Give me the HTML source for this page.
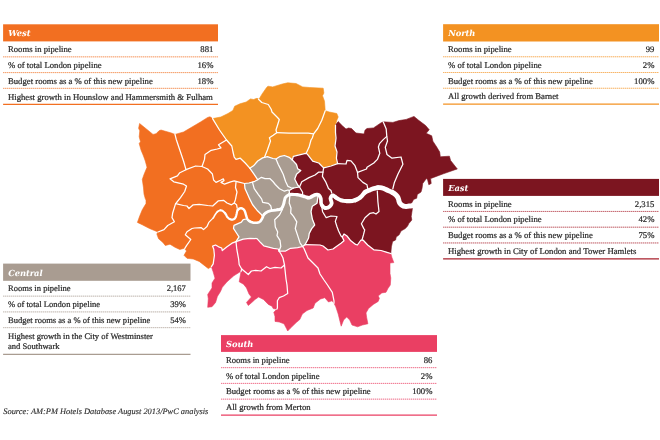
<!DOCTYPE html>
<html><head><meta charset="utf-8"><title>London hotel pipeline by region</title>
<style>
html,body{margin:0;padding:0;background:#fff}
body{width:660px;height:440px;position:relative;overflow:hidden;font-family:"Liberation Serif",serif;color:#2a2a2a;text-rendering:geometricPrecision}
.tb{position:absolute}
.hd{position:absolute;left:0;top:0;right:0;height:16.5px}
.hd span{position:absolute;left:5.1px;top:3.85px;font-family:"DejaVu Serif",serif;font-size:8.4px;line-height:11px;font-style:italic;font-weight:bold;color:#fff;white-space:nowrap;letter-spacing:-0.1px}
.tb{font-size:8.7px}
.rw{position:absolute;left:0;right:0;box-sizing:border-box;line-height:10.2px;-webkit-text-stroke:0.22px #2a2a2a}
.rw .a{position:absolute;left:4.9px;top:2.6px;white-space:nowrap}
.rw .b{position:absolute;right:4.6px;top:2.6px;white-space:nowrap}
.src{position:absolute;left:3.3px;top:405.5px;font-size:8.4px;line-height:11px;font-style:italic;white-space:nowrap;color:#2a2a2a;-webkit-text-stroke:0.12px #2a2a2a}
</style></head><body>
<svg width="660" height="440" viewBox="0 0 660 440" style="position:absolute;left:0;top:0">
<polygon points="139.6,123.5 147,129.5 153,134.4 156,133.8 159,130.8 161,130 171.4,133 175,134.4 183.5,132 192,127 200.5,122 207.7,117.4 210,116.8 212.6,118.6 219.5,130 226.5,140 231.8,146 233,152 234.2,157 236,159.4 240.3,158.2 245.2,163 249.8,168.2 254,174.2 257.7,179.7 254.8,181.3 249,183 244.5,183.5 245,188.6 247.4,193.8 249.7,198.9 252.5,204.5 257,210.2 261.6,214.8 262.7,217.5 259,222.2 252.9,222.8 248,220.4 246.5,219 243.2,219.6 241.4,222.2 234,225.3 233.5,228.3 236.5,233 239,236.8 236,241.6 232,243.2 227,246.8 222.3,250.5 221.7,248 218.6,246.8 215.6,245 212.6,246.2 213.8,249.2 214.4,255.3 213.2,263.8 211.4,266.7 208.3,268.6 205.3,266.2 199.2,261.4 193.2,259 187,258.3 184,255.3 186.5,251 184.7,248.6 183.5,248.5 179.8,249.5 175,247.3 170,244.2 165.3,245.5 162.9,242.4 158.6,238.8 156.8,234 158,232 149.5,228.5 142.3,224.8 137.4,222.4 139.8,215.8 142.3,209.7 146,203.6 146,200 145.3,198.8 144,194 143.5,187.9 142.3,179.4 144,174.5 147,167.3 145.3,161 143.5,156 141,150 139.2,143.5 140.5,141.7 139.2,136.8 139.8,130.8 138.6,128.3" fill="#F26F21" stroke="#F26F21" stroke-width="0.6" stroke-linejoin="round"/>
<polygon points="212.6,118.6 220.8,117 228,113.5 232.9,110.4 234.7,106.2 240,103.8 246.2,102 250.5,98.9 253.5,99.5 257,98.3 259,99.3 261.8,94.4 266.6,87.5 268,86.2 272.7,86.9 282.3,84 287.7,82.8 296,83.5 302.7,86.9 309.5,87.5 323.2,88.2 323.9,93 322.5,95.7 324.5,101.2 325.2,110.7 329.3,112 336.8,113.5 338.2,116.9 336.8,120.3 335.5,125 335.5,132.5 336,138 335.8,140 335,146 337,152 336.4,158.2 337.6,163.6 331,166 323.6,167.9 318.8,163 312.7,161.2 307.3,154 305.5,153.3 293.3,156.4 292.3,159.9 289.2,157.3 284.4,155.5 279.5,156.7 276,159 272.9,158.5 267.4,156.7 262.6,157.9 257.7,161 253.5,165.8 249.8,168.2 245.2,163 240.3,158.2 236,159.4 234.2,157 233,152 231.8,146 226.5,140 219.5,130 212.6,118.6" fill="#F39222" stroke="#F39222" stroke-width="0.6" stroke-linejoin="round"/>
<polygon points="335.5,125 338.2,121.6 342.3,125.7 346,129 348.5,128 351.5,128.5 356,133 364,134 365,130.3 366.8,128.5 373.5,127.9 380.8,123 383.2,121.8 392.9,122.4 399,120.6 406.2,119.4 414,116.4 418.3,120 425.6,125.5 429.2,129.7 426.2,133.3 431.7,135.8 432.9,141.2 436.7,147 439.7,152 440.3,156.8 449.4,156.2 450.6,160.5 457.3,169 454.2,170 443.3,173.8 433.6,177.4 430.6,178.6 431.2,183.5 428.8,184.7 427.6,179.8 426.4,178.6 422.7,183.5 422,188.5 421,192 417.3,194.5 416.7,198.2 413.6,199.4 412.4,201.8 411,204 412.4,208.5 411.8,212.7 411.2,216.4 411.8,220 408.8,223.6 407.6,226 405.3,228.6 401,231 399.2,234.7 396.2,237 395.6,240 392.6,241.4 391.4,246.8 390.8,253.5 387,252.3 381,250.5 373.8,249.8 367.7,245 363,240 361,240 357.4,245 355.6,244.4 350.8,240.8 347,236 344,234 342.3,237 344,240.8 341,243.2 335,247.4 333,249 328,250 323,246 320,245 305,244.7 308.6,238 309.2,233.5 311.7,228.6 314.7,225 312.3,219 311,211.7 312.3,206.2 317,203.2 317.7,198.3 318,195.5 314,195.5 309.2,197.7 304.4,196.5 297,194.7 289.5,194.5 289.2,190.5 293.5,188 299.5,187 297.7,185 294.7,179 296.5,174.2 300.8,170.6 297.7,168.8 296.5,164.5 292.3,159.9 293.3,156.4 305.5,153.3 307.3,154 312.7,161.2 318.8,163 323.6,167.9 331,166 337.6,163.6 336.4,158.2 337,152 335,146 335.8,140 336,138 335.5,132.5 335.5,125" fill="#7C1520" stroke="#7C1520" stroke-width="0.6" stroke-linejoin="round"/>
<polygon points="249.8,168.2 253.5,165.8 257.7,161 262.6,157.9 267.4,156.7 272.9,158.5 276,159 279.5,156.7 284.4,155.5 289.2,157.3 292.3,159.9 296.5,164.5 297.7,168.8 300.8,170.6 296.5,174.2 294.7,179 297.7,185 299.5,187 293.5,188 289.2,190.5 289.5,194.5 297,194.7 304.4,196.5 309.2,197.7 314,195.5 318,195.5 317.7,198.3 317,203.2 312.3,206.2 311,211.7 312.3,219 314.7,225 311.7,228.6 309.2,233.5 308.6,238 305,244.7 302.6,246.5 297.7,247.7 290.5,248.3 285.6,251 279,251 278.3,249 273.5,248.3 263.8,245.9 260.8,242.8 257,238.6 250,238.3 243.2,239.2 236,241.6 239,236.8 236.5,233 233.5,228.3 234,225.3 241.4,222.2 243.2,219.6 246.5,219 248,220.4 252.9,222.8 259,222.2 262.7,217.5 261.6,214.8 257,210.2 252.5,204.5 249.7,198.9 247.4,193.8 245,188.6 244.5,183.5 249,183 254.8,181.3 257.7,179.7 254,174.2 249.8,168.2" fill="#A99C91" stroke="#A99C91" stroke-width="0.6" stroke-linejoin="round"/>
<polygon points="236,241.6 243.2,239.2 250,238.3 257,238.6 260.8,242.8 263.8,245.9 273.5,248.3 278.3,249 279,251 285.6,251 290.5,248.3 297.7,247.7 302.6,246.5 305,244.7 320,245 323,246 328,250 333,249 335,247.4 341,243.2 344,240.8 342.3,237 344,234 347,236 350.8,240.8 355.6,244.4 357.4,245 361,240 363,240 367.7,245 373.8,249.8 381,250.5 387,252.3 390.8,253.5 392,257.7 393.8,262.6 390,263 390,273.5 390.8,278 390.3,285 387.9,288.6 386,292.3 381.8,292.9 378.2,296 379.4,298.3 378.2,301.4 373.3,304.4 368.5,308.6 366,312.9 366.7,317.7 367.9,323.8 362.4,325 357.6,326.8 352,325 349.7,320 346.7,317 343.6,320 341.2,326.2 340,321.4 338.2,314 335.8,306.8 334,303.2 332,300.8 328.5,302 324.8,297.7 320.5,299 315,303.2 313.2,308 307,310.5 302.3,314 299.8,319.5 296.2,322.6 290,328.6 287.7,331 286.5,328.6 284,323.8 279.2,322 275,321.4 275,316.5 273.8,312.3 276.8,309.2 273.2,308.6 272,306.2 268.3,304.4 263.5,299.5 258.6,297 255,299.5 252.6,301.8 248.3,305.5 246.5,302.4 251.4,297 249,294 246.5,287.9 243.5,284.2 239.2,281.8 241,271.5 239.8,272 233.8,275.8 227,281.8 222.3,287.3 220.5,291.5 217.4,296.4 215.6,302.4 212,306.7 207.7,307.3 208.3,298.8 207.7,294.5 212,287.9 212,283 215,278.2 213.2,272 211.4,266.7 213.2,263.8 214.4,255.3 213.8,249.2 212.6,246.2 215.6,245 218.6,246.8 221.7,248 222.3,250.5 227,246.8 232,243.2 236,241.6" fill="#EA3F63" stroke="#EA3F63" stroke-width="0.6" stroke-linejoin="round"/>
<g fill="none" stroke="#fff" stroke-width="1.25" stroke-linejoin="round" stroke-linecap="round">
<polyline points="175,134.4 176.2,139.2 179.8,150 183.5,161 186,169.7 179.8,172.7 177.4,175.8 170,178.8 173.8,181.8 183.5,184.2 186.5,186 184.7,191.5 180.5,197.6 176.2,203 175.6,203.6 172.6,213.3 172,217.6 174.4,221.8 167.7,225.5 164,229.7 158,232"/>
<polyline points="186,169.7 195.6,166 202,166.5 204.5,159.4 205,154.5 211.2,150.3 217.3,149 221,147.9 218.5,144.8 226.5,140"/>
<polyline points="202,166.5 207.6,169 212.4,174 213.6,180 216,182.4 221,180 223.3,178.8 224,180.6 221,182.4 224.5,184.2 230.6,181.8 234.2,180.8 238,181.8 244.5,183.5"/>
<polyline points="236,182.4 235.5,187.5 237,192 236,196.6 235.5,199.4 234.3,203 236.6,204.8 237.2,208.2"/>
<polyline points="175.6,203.6 183.5,205.5 187,206 189,208.5 193.2,204.8 199.2,204.3 207.7,205.5 212.7,206 216,203 218.4,200.8 223.5,200.3 227,203 231.5,204.8 234.3,203"/>
<polyline points="184.7,248.6 186.5,245.6 190.8,239.5 185.3,234.7 187,231.7 192,228.5 194.5,228 201,227.6 203.5,229.6 207,226.5 208.8,222.4 213.3,217.9"/>
<polyline points="236,241.6 236.8,249.2 238.6,259 239.2,264.8 241.7,269 241,271.5"/>
<polyline points="241.7,269 248.3,274.5 251.4,271 255.6,270.3 261,271 266.5,266.7 270,268.5 275,267.3 281,268 284.5,265"/>
<polyline points="279,251 281,254 283,258 284.5,265 286,279 287,285 287.7,293.5 283.5,296 279.2,297.7 277.4,300.8 277.4,308 276.8,309.2"/>
<polyline points="302.6,246.5 304,248.5 308,258 312,262 318,268 320,274 324,280 327.5,285 332.3,292.3 334,300.8 334,303.2"/>
<polyline points="282.6,209 279.5,215 274.7,219.8 275.3,227 277.7,232 277,235.6 280,240.4 280.8,246.5 279,251"/>
<polyline points="289.8,196 289.2,203 291,208 290.7,213 293.5,216.4 296.8,221.8 295.3,228.5 297.7,235.6 300,242.8 302.6,246.5"/>
<polyline points="321.4,204.4 322.6,211.7 326.2,217.7 331,216 337,216.5 335.3,221.4 337,226.8 338.6,231 341,236 342.3,237"/>
<polyline points="377.3,191 377.9,201.8 379,211.5 376,214 373.6,212.7 370,213.3 365,217.7 361.4,223.8 363.8,228.6 364.7,229.8 363.5,234.7 362,240"/>
<polyline points="276,159 278.3,164.5 280.8,169.4 283.2,174.2 285.6,181.5 288,186.4 291,187.8 293.5,188"/>
<polyline points="257.7,179.7 261.4,177.3 265,178.6 269.8,178.5 272.9,181.5 275.3,184.5 279.5,188.8 284.4,191.2 288,190 289.2,190.5"/>
<polyline points="252.5,182.4 254.2,188.6 258.2,194.3 261.6,198.9 262.7,202.3 268.4,203.4 270.7,205.7 271.8,210.5"/>
<polyline points="299.5,187 301.8,181.8 309,177.6 315,175 318.8,172 323,172"/>
<polyline points="323.6,167.9 323,172 322.4,176.4 326,182.4 328.5,188.5 331,190.5 331.7,193"/>
<polyline points="299.5,187 302.6,192.3 302.5,196"/>
<polyline points="337.6,163.6 346,164 347,160.3 351,160.8 355,165.7 357.5,172.3"/>
<polyline points="357.5,172.3 366.5,169 367,167.3 373.8,163 377.4,159.4 379.8,153.3 378.4,147 379.5,143.6 383.2,139.6 386.8,136.4"/>
<polyline points="383.2,121.8 386.2,129 386.8,136.4 387.5,141 385.3,147.3 387,154.5 392,158.2 401,157 402.9,164.2 398,174 394.4,182.4 392.8,189"/>
<polyline points="357.5,172.3 358,177.6 362.9,182.4 367,184.8 367.7,188.5"/>
<polyline points="258.5,99.3 261.8,102.5 268.3,104.5 271.2,109.3 272,112 277.5,117.5 279.3,119.5 277.6,125 276,130 276.7,132.7 273.2,135.3 269.4,137.8 270.5,141 267.4,150 265,156 264.5,157.3"/>
<polyline points="276.7,132.7 289,133.2 308.2,133.2 313.6,133.9"/>
<polyline points="325.2,110.7 321.8,120.3 317.7,128.5 313.6,133.9 312.3,138 311,140 309,147.3 306.3,153"/>
<polyline points="212.6,118.6 219.5,130 226.5,140 231.8,146 233,152 234.2,157 236,159.4 240.3,158.2 245.2,163 249.8,168.2"/>
<polyline points="249.8,168.2 253.5,165.8 257.7,161 262.6,157.9 267.4,156.7 272.9,158.5 276,159 279.5,156.7 284.4,155.5 289.2,157.3 292.3,159.9"/>
<polyline points="292.3,159.9 293.3,156.4 305.5,153.3 307.3,154 312.7,161.2 318.8,163 323.6,167.9 331,166 337.6,163.6 336.4,158.2 337,152 335,146 335.8,140 336,138 335.5,132.5 335.5,125"/>
<polyline points="249.8,168.2 254,174.2 257.7,179.7 254.8,181.3 249,183 244.5,183.5 245,188.6 247.4,193.8 249.7,198.9 252.5,204.5 257,210.2 261.6,214.8 262.7,217.5"/>
<polyline points="246.5,219 243.2,219.6 241.4,222.2 234,225.3 233.5,228.3 236.5,233 239,236.8 236,241.6"/>
<polyline points="236,241.6 243.2,239.2 250,238.3 257,238.6 260.8,242.8 263.8,245.9 273.5,248.3 278.3,249 279,251 285.6,251 290.5,248.3 297.7,247.7 302.6,246.5 305,244.7"/>
<polyline points="292.3,159.9 296.5,164.5 297.7,168.8 300.8,170.6 296.5,174.2 294.7,179 297.7,185 299.5,187 293.5,188 289.2,190.5 289.5,194.5"/>
<polyline points="318,195.5 317.7,198.3 317,203.2 312.3,206.2 311,211.7 312.3,219 314.7,225 311.7,228.6 309.2,233.5 308.6,238 305,244.7"/>
<polyline points="305,244.7 320,245 323,246 328,250 333,249 335,247.4 341,243.2 344,240.8 342.3,237 344,234 347,236 350.8,240.8 355.6,244.4 357.4,245 361,240 363,240 367.7,245 373.8,249.8 381,250.5 387,252.3 390.8,253.5"/>
<polyline points="236,241.6 232,243.2 227,246.8 222.3,250.5 221.7,248 218.6,246.8 215.6,245 212.6,246.2 213.8,249.2 214.4,255.3 213.2,263.8 211.4,266.7"/>
</g>
<polyline points="213.3,217.9 213.9,216.9 214.7,215.4 215.6,214 216.5,212.8 217.4,211.8" fill="none" stroke="#fff" stroke-width="1.6" stroke-linejoin="round" stroke-linecap="round"/>
<polyline points="217.4,211.8 218.4,211 219.5,210.5 220.6,210.3" fill="none" stroke="#fff" stroke-width="1.8" stroke-linejoin="round" stroke-linecap="round"/>
<polyline points="220.6,210.3 221.8,210.5 223,211.1 224.1,212.2 225.2,213.3" fill="none" stroke="#fff" stroke-width="2.0" stroke-linejoin="round" stroke-linecap="round"/>
<polyline points="225.2,213.3 226,214.6 226.7,216 227.5,217.3 228.6,218.3 229.8,219.1 231,219.6 232.4,219.6 233.7,219.2 234.9,218.5 235.7,217.2 236.2,215.6 236.6,214 236.9,212.5 237.2,211.2 237.7,210" fill="none" stroke="#fff" stroke-width="2.2" stroke-linejoin="round" stroke-linecap="round"/>
<polyline points="237.7,210 238.6,209.1 239.8,208.4 241,208.2 242.2,208.5 243.5,209.3 244.5,210.5 245.2,212.2 245.8,214.3 246.3,216.2 246.8,217.7 247.2,218.9 248,220 249.4,221.1" fill="none" stroke="#fff" stroke-width="2.4" stroke-linejoin="round" stroke-linecap="round"/>
<polyline points="249.4,221.1 251.1,222 252.9,222.6 254.9,222.8 257.1,222.7 259,222.2 260.4,221.2 261.4,219.7 262.3,218.3 262.9,217 263.3,215.6 264,214.4" fill="none" stroke="#fff" stroke-width="2.6" stroke-linejoin="round" stroke-linecap="round"/>
<polyline points="264,214.4 265.2,213.2 266.8,212.2 268.6,211.3 271,210.7 273.6,210.3 276,210 277.9,209.7" fill="none" stroke="#fff" stroke-width="2.8" stroke-linejoin="round" stroke-linecap="round"/>
<polyline points="277.9,209.7 279.5,209.5 280.8,209 281.8,208 282.6,206.8 283.2,205.3 283.8,203.6 284.2,201.6 284.6,200 284.9,198.9 285.1,198.1 285.6,197.3 286.6,196.3 287.8,195.4 289.5,194.7" fill="none" stroke="#fff" stroke-width="3.0" stroke-linejoin="round" stroke-linecap="round"/>
<polyline points="289.5,194.7 291.7,194.4 294.4,194.5 297,194.7" fill="none" stroke="#fff" stroke-width="3.2" stroke-linejoin="round" stroke-linecap="round"/>
<polyline points="297,194.7 299.6,195.2 302.1,195.9 304.4,196.5 306.2,197.1 307.7,197.6" fill="none" stroke="#fff" stroke-width="3.4" stroke-linejoin="round" stroke-linecap="round"/>
<polyline points="307.7,197.6 309.2,197.7 310.8,197.1 312.4,196.1 314,195.3 315.5,194.8 317,194.5 318.3,194.7 319.3,195.5 320.2,196.8 320.8,198.3 321,200.2 321,202.5 321.4,204.4 322.4,206" fill="none" stroke="#fff" stroke-width="3.6" stroke-linejoin="round" stroke-linecap="round"/>
<polyline points="322.4,206 323.6,207.2 325,208 326.4,208 327.9,207.6 329.2,206.8 330.3,205.8 331.2,204.6 331.7,203.2 331.4,201.6 330.8,199.8 330.5,198.3 331,196.9 331.8,195.8 332.9,195.3 334.1,195.9 335.4,197.1" fill="none" stroke="#fff" stroke-width="3.8" stroke-linejoin="round" stroke-linecap="round"/>
<polyline points="335.4,197.1 337,198.3 338.8,199.3 340.8,200.2 343.2,200.8 346.3,201.1" fill="none" stroke="#fff" stroke-width="4.0" stroke-linejoin="round" stroke-linecap="round"/>
<polyline points="346.3,201.1 349.7,201.1 352.9,200.8 355.5,200.1" fill="none" stroke="#fff" stroke-width="4.2" stroke-linejoin="round" stroke-linecap="round"/>
<polyline points="355.5,200.1 357.9,199 360,197.7 361.8,196 363.4,194 365,192.3" fill="none" stroke="#fff" stroke-width="4.4" stroke-linejoin="round" stroke-linecap="round"/>
<polyline points="365,192.3 366.6,191.3 368.3,190.6 370,190 371.9,189.2 374,188.4 376,187.9 378,187.6" fill="none" stroke="#fff" stroke-width="4.6" stroke-linejoin="round" stroke-linecap="round"/>
<polyline points="378,187.6 380,187.6 382,187.9 384,188.6 386,189.5 388,190.5 390.1,191.4 392.3,192.4" fill="none" stroke="#fff" stroke-width="4.8" stroke-linejoin="round" stroke-linecap="round"/>
<polyline points="392.3,192.4 394.2,193.5 395.7,194.7 396.9,196 397.9,197.5 398.6,199.3 399,201.3 399.7,203 400.7,204.3 402,205.3 403.3,206 404.6,206.3 406.1,206.4 407.6,206.3 409.3,206.1 411.2,205.9 413,205.5 414.9,205 416.7,204.4 418,204" fill="none" stroke="#fff" stroke-width="5.0" stroke-linejoin="round" stroke-linecap="round"/>
<rect x="3.1" y="24.3" width="214.9" height="17.1" fill="#F26F21"/>
<line x1="3.1" y1="56.85" x2="218.0" y2="56.85" stroke="#F26F21" stroke-width="1" stroke-opacity="0.28"/>
<line x1="3.1" y1="56.85" x2="218.0" y2="56.85" stroke="#F26F21" stroke-width="1" stroke-opacity="0.6" stroke-dasharray="1 1"/>
<line x1="3.1" y1="72.60" x2="218.0" y2="72.60" stroke="#F26F21" stroke-width="1" stroke-opacity="0.28"/>
<line x1="3.1" y1="72.60" x2="218.0" y2="72.60" stroke="#F26F21" stroke-width="1" stroke-opacity="0.6" stroke-dasharray="1 1"/>
<line x1="3.1" y1="88.35" x2="218.0" y2="88.35" stroke="#F26F21" stroke-width="1" stroke-opacity="0.28"/>
<line x1="3.1" y1="88.35" x2="218.0" y2="88.35" stroke="#F26F21" stroke-width="1" stroke-opacity="0.6" stroke-dasharray="1 1"/>
<line x1="3.1" y1="104.30" x2="218.0" y2="104.30" stroke="#F26F21" stroke-width="1.25"/>
<rect x="443.1" y="24.2" width="215.9" height="17.3" fill="#F39222"/>
<line x1="443.1" y1="56.75" x2="659.0" y2="56.75" stroke="#F39222" stroke-width="1" stroke-opacity="0.28"/>
<line x1="443.1" y1="56.75" x2="659.0" y2="56.75" stroke="#F39222" stroke-width="1" stroke-opacity="0.6" stroke-dasharray="1 1"/>
<line x1="443.1" y1="72.50" x2="659.0" y2="72.50" stroke="#F39222" stroke-width="1" stroke-opacity="0.28"/>
<line x1="443.1" y1="72.50" x2="659.0" y2="72.50" stroke="#F39222" stroke-width="1" stroke-opacity="0.6" stroke-dasharray="1 1"/>
<line x1="443.1" y1="88.25" x2="659.0" y2="88.25" stroke="#F39222" stroke-width="1" stroke-opacity="0.28"/>
<line x1="443.1" y1="88.25" x2="659.0" y2="88.25" stroke="#F39222" stroke-width="1" stroke-opacity="0.6" stroke-dasharray="1 1"/>
<line x1="443.1" y1="104.20" x2="659.0" y2="104.20" stroke="#F39222" stroke-width="1.25"/>
<rect x="443.1" y="178.9" width="215.9" height="17.0" fill="#7C1520"/>
<line x1="443.1" y1="211.45" x2="659.0" y2="211.45" stroke="#A8202C" stroke-width="1" stroke-opacity="0.28"/>
<line x1="443.1" y1="211.45" x2="659.0" y2="211.45" stroke="#A8202C" stroke-width="1" stroke-opacity="0.6" stroke-dasharray="1 1"/>
<line x1="443.1" y1="227.20" x2="659.0" y2="227.20" stroke="#A8202C" stroke-width="1" stroke-opacity="0.28"/>
<line x1="443.1" y1="227.20" x2="659.0" y2="227.20" stroke="#A8202C" stroke-width="1" stroke-opacity="0.6" stroke-dasharray="1 1"/>
<line x1="443.1" y1="242.95" x2="659.0" y2="242.95" stroke="#A8202C" stroke-width="1" stroke-opacity="0.28"/>
<line x1="443.1" y1="242.95" x2="659.0" y2="242.95" stroke="#A8202C" stroke-width="1" stroke-opacity="0.6" stroke-dasharray="1 1"/>
<line x1="443.1" y1="258.90" x2="659.0" y2="258.90" stroke="#A8202C" stroke-width="1.25"/>
<rect x="3.1" y="263.6" width="187.4" height="17.2" fill="#A99C91"/>
<line x1="3.1" y1="296.15" x2="190.5" y2="296.15" stroke="#A99C91" stroke-width="1" stroke-opacity="0.28"/>
<line x1="3.1" y1="296.15" x2="190.5" y2="296.15" stroke="#A99C91" stroke-width="1" stroke-opacity="0.6" stroke-dasharray="1 1"/>
<line x1="3.1" y1="311.90" x2="190.5" y2="311.90" stroke="#A99C91" stroke-width="1" stroke-opacity="0.28"/>
<line x1="3.1" y1="311.90" x2="190.5" y2="311.90" stroke="#A99C91" stroke-width="1" stroke-opacity="0.6" stroke-dasharray="1 1"/>
<line x1="3.1" y1="327.65" x2="190.5" y2="327.65" stroke="#A99C91" stroke-width="1" stroke-opacity="0.28"/>
<line x1="3.1" y1="327.65" x2="190.5" y2="327.65" stroke="#A99C91" stroke-width="1" stroke-opacity="0.6" stroke-dasharray="1 1"/>
<line x1="3.1" y1="354.40" x2="190.5" y2="354.40" stroke="#A99C91" stroke-width="1.25"/>
<rect x="221.0" y="335.1" width="216" height="16.8" fill="#EA3F63"/>
<line x1="221.0" y1="367.65" x2="437.0" y2="367.65" stroke="#EA3F63" stroke-width="1" stroke-opacity="0.28"/>
<line x1="221.0" y1="367.65" x2="437.0" y2="367.65" stroke="#EA3F63" stroke-width="1" stroke-opacity="0.6" stroke-dasharray="1 1"/>
<line x1="221.0" y1="383.40" x2="437.0" y2="383.40" stroke="#EA3F63" stroke-width="1" stroke-opacity="0.28"/>
<line x1="221.0" y1="383.40" x2="437.0" y2="383.40" stroke="#EA3F63" stroke-width="1" stroke-opacity="0.6" stroke-dasharray="1 1"/>
<line x1="221.0" y1="399.15" x2="437.0" y2="399.15" stroke="#EA3F63" stroke-width="1" stroke-opacity="0.28"/>
<line x1="221.0" y1="399.15" x2="437.0" y2="399.15" stroke="#EA3F63" stroke-width="1" stroke-opacity="0.6" stroke-dasharray="1 1"/>
<line x1="221.0" y1="415.10" x2="437.0" y2="415.10" stroke="#EA3F63" stroke-width="1.25"/></svg>
<div class="tb" style="left:3.1px;top:24.6px;width:214.9px">
<div class="hd"><span>West</span></div>
<div class="rw" style="top:17.1px;height:15.75px;"><span class="a">Rooms in pipeline</span><span class="b">881</span></div>
<div class="rw" style="top:32.85px;height:15.75px;"><span class="a">% of total London pipeline</span><span class="b">16%</span></div>
<div class="rw" style="top:48.6px;height:15.75px;"><span class="a">Budget rooms as a % of this new pipeline</span><span class="b">18%</span></div>
<div class="rw" style="top:64.35px;height:16.15px;"><span class="a">Highest growth in Hounslow and Hammersmith &amp; Fulham</span><span class="b"></span></div>
</div>
<div class="tb" style="left:443.1px;top:24.5px;width:215.9px">
<div class="hd"><span>North</span></div>
<div class="rw" style="top:17.1px;height:15.75px;"><span class="a">Rooms in pipeline</span><span class="b">99</span></div>
<div class="rw" style="top:32.85px;height:15.75px;"><span class="a">% of total London pipeline</span><span class="b">2%</span></div>
<div class="rw" style="top:48.6px;height:15.75px;"><span class="a">Budget rooms as a % of this new pipeline</span><span class="b">100%</span></div>
<div class="rw" style="top:64.35px;height:16.15px;"><span class="a">All growth derived from Barnet</span><span class="b"></span></div>
</div>
<div class="tb" style="left:443.1px;top:178.9px;width:215.9px">
<div class="hd"><span>East</span></div>
<div class="rw" style="top:17.1px;height:15.75px;"><span class="a">Rooms in pipeline</span><span class="b">2,315</span></div>
<div class="rw" style="top:32.85px;height:15.75px;"><span class="a">% of total London pipeline</span><span class="b">42%</span></div>
<div class="rw" style="top:48.6px;height:15.75px;"><span class="a">Budget rooms as a % of this new pipeline</span><span class="b">75%</span></div>
<div class="rw" style="top:64.35px;height:16.15px;"><span class="a">Highest growth in City of London and Tower Hamlets</span><span class="b"></span></div>
</div>
<div class="tb" style="left:3.1px;top:263.8px;width:187.4px;font-size:8.55px">
<div class="hd"><span>Central</span></div>
<div class="rw" style="top:17.1px;height:15.75px;"><span class="a">Rooms in pipeline</span><span class="b">2,167</span></div>
<div class="rw" style="top:32.85px;height:15.75px;"><span class="a">% of total London pipeline</span><span class="b">39%</span></div>
<div class="rw" style="top:48.6px;height:15.75px;"><span class="a">Budget rooms as a % of this new pipeline</span><span class="b">54%</span></div>
<div class="rw" style="top:64.35px;height:26.549999999999997px;"><span class="a" style="top:3.1px;line-height:10.2px">Highest growth in the City of Westminster<br>and Southwark</span><span class="b"></span></div>
</div>
<div class="tb" style="left:221.0px;top:335.1px;width:216px">
<div class="hd"><span>South</span></div>
<div class="rw" style="top:17.1px;height:15.75px;"><span class="a">Rooms in pipeline</span><span class="b">86</span></div>
<div class="rw" style="top:32.85px;height:15.75px;"><span class="a">% of total London pipeline</span><span class="b">2%</span></div>
<div class="rw" style="top:48.6px;height:15.75px;"><span class="a">Budget rooms as a % of this new pipeline</span><span class="b">100%</span></div>
<div class="rw" style="top:64.35px;height:16.15px;"><span class="a">All growth from Merton</span><span class="b"></span></div>
</div>
<div class="src">Source: AM:PM Hotels Database August 2013/PwC analysis</div>
</body></html>
